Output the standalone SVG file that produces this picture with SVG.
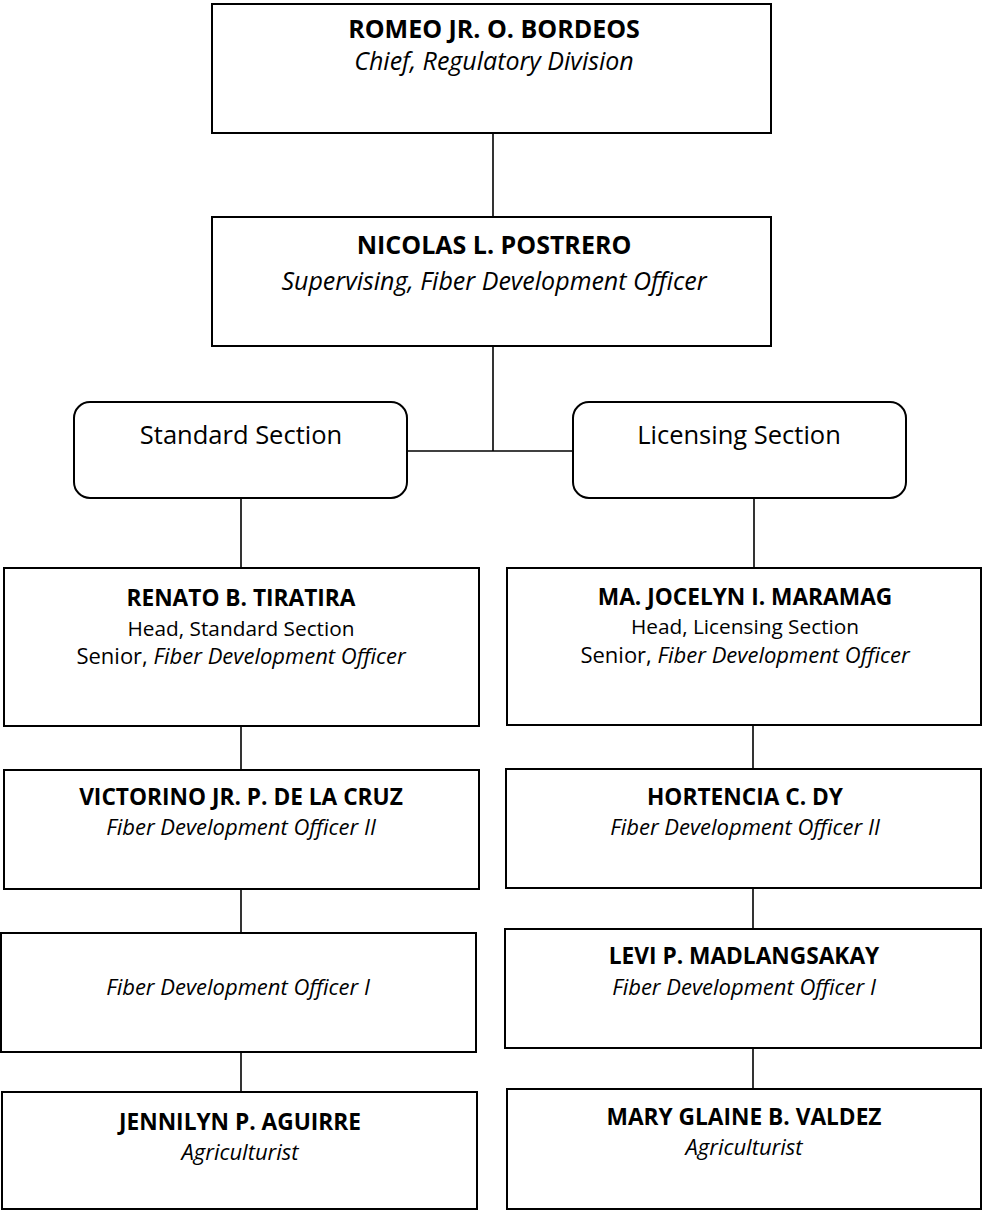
<svg xmlns="http://www.w3.org/2000/svg" width="982" height="1211" viewBox="0 0 982 1211">
<style>
.box{fill:#fff;stroke:#000;stroke-width:2}
.conn line{stroke:#000;stroke-width:1.6}
text{font-family:"Open Sans","DejaVu Sans",sans-serif;font-size:22px;fill:#000;text-anchor:middle}
.b{font-weight:bold}
.bl{font-weight:bold;font-size:22.7px}
.i{font-style:italic}
.r{font-size:20.8px}
.top{font-size:25px}
.sec{font-size:25.5px}
</style>
<rect width="982" height="1211" fill="#fff"/>
<g class="conn" id="connectors">
<line x1="493" y1="133" x2="493" y2="217"/>
<line x1="493" y1="346" x2="493" y2="451"/>
<line x1="407" y1="451" x2="573" y2="451"/>
<line x1="241" y1="498" x2="241" y2="568"/>
<line x1="754" y1="498" x2="754" y2="568"/>
<line x1="241" y1="726" x2="241" y2="770"/>
<line x1="753" y1="725" x2="753" y2="769"/>
<line x1="241" y1="889" x2="241" y2="933"/>
<line x1="753" y1="888" x2="753" y2="929"/>
<line x1="241" y1="1052" x2="241" y2="1092"/>
<line x1="753" y1="1048" x2="753" y2="1089"/>
</g>
<g id="n-bordeos">
<rect class="box" x="212" y="4" width="559" height="129"/>
<text class="b top" x="494" y="38">ROMEO JR. O. BORDEOS</text>
<text class="i top" x="494" y="70">Chief, Regulatory Division</text>
</g>
<g id="n-postrero">
<rect class="box" x="212" y="217" width="559" height="129"/>
<text class="b top" x="494" y="254">NICOLAS L. POSTRERO</text>
<text class="i top" x="494" y="290">Supervising, Fiber Development Officer</text>
</g>
<g id="n-standard">
<rect class="box" x="74" y="402" width="333" height="96" rx="16"/>
<text class="sec" x="241" y="444">Standard Section</text>
</g>
<g id="n-licensing">
<rect class="box" x="573" y="402" width="333" height="96" rx="16"/>
<text class="sec" x="739" y="444">Licensing Section</text>
</g>
<g id="n-tiratira">
<rect class="box" x="4" y="568" width="475" height="158"/>
<text class="bl" x="241" y="606">RENATO B. TIRATIRA</text>
<text class="r" x="241" y="636">Head, Standard Section</text>
<text x="241" y="664">Senior, <tspan class="i">Fiber Development Officer</tspan></text>
</g>
<g id="n-maramag">
<rect class="box" x="507" y="568" width="474" height="157"/>
<text class="bl" x="745" y="605">MA. JOCELYN I. MARAMAG</text>
<text class="r" x="745" y="634">Head, Licensing Section</text>
<text x="745" y="663">Senior, <tspan class="i">Fiber Development Officer</tspan></text>
</g>
<g id="n-delacruz">
<rect class="box" x="4" y="770" width="475" height="119"/>
<text class="bl" x="241" y="805">VICTORINO JR. P. DE LA CRUZ</text>
<text class="i" x="241" y="835">Fiber Development Officer II</text>
</g>
<g id="n-dy">
<rect class="box" x="506" y="769" width="475" height="119"/>
<text class="bl" x="745" y="805">HORTENCIA C. DY</text>
<text class="i" x="745" y="835">Fiber Development Officer II</text>
</g>
<g id="n-fdo1">
<rect class="box" x="1" y="933" width="475" height="119"/>
<text class="i" x="238" y="995">Fiber Development Officer I</text>
</g>
<g id="n-madlangsakay">
<rect class="box" x="505" y="929" width="476" height="119"/>
<text class="bl" x="744" y="964">LEVI P. MADLANGSAKAY</text>
<text class="i" x="744" y="995">Fiber Development Officer I</text>
</g>
<g id="n-aguirre">
<rect class="box" x="2" y="1092" width="475" height="117"/>
<text class="bl" x="240" y="1130">JENNILYN P. AGUIRRE</text>
<text class="i" x="240" y="1160">Agriculturist</text>
</g>
<g id="n-valdez">
<rect class="box" x="507" y="1089" width="474" height="120"/>
<text class="bl" x="744" y="1125">MARY GLAINE B. VALDEZ</text>
<text class="i" x="744" y="1155">Agriculturist</text>
</g>
</svg>
